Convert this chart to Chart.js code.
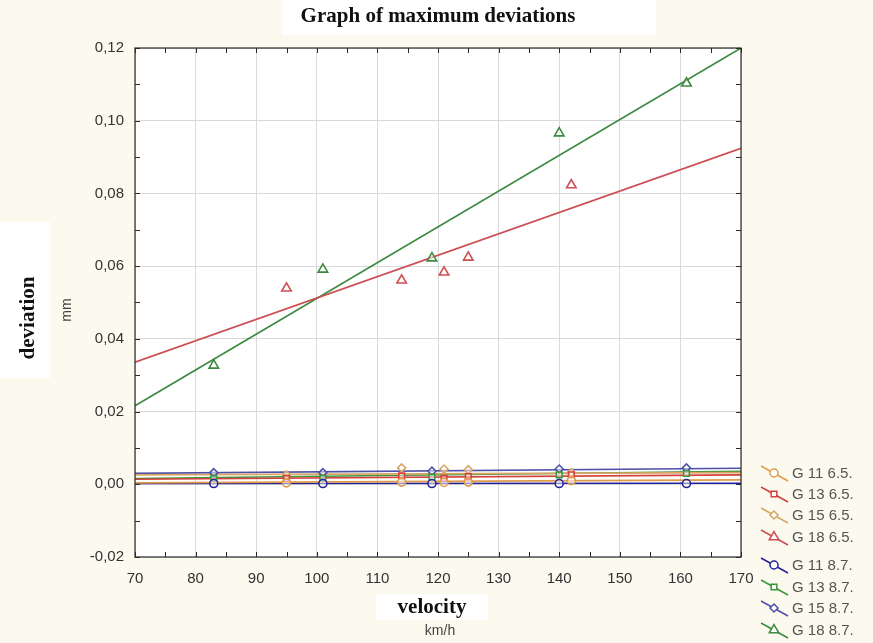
<!DOCTYPE html>
<html>
<head>
<meta charset="utf-8">
<script src="https://cdn.jsdelivr.net/npm/chart.js@4"></script>
<style>
  body { margin: 0; background: #fcf9ee; }
  #wrap { width: 873px; height: 643px; }
</style>
</head>
<body>
<div id="wrap"><canvas id="chart" width="873" height="643"></canvas></div>
<script>
// velocities (km/h) at which each test series was measured
const speeds65 = [95, 114, 121, 125, 142];
const speeds87 = [83, 101, 119, 140, 161];

// max deviation (mm)
const g11_65 = [0.0004, 0.0006, 0.0005, 0.0006, 0.0010];
const g13_65 = [0.0016, 0.0023, 0.0016, 0.0021, 0.0026];
const g15_65 = [0.0026, 0.0045, 0.0042, 0.0040, 0.0032];
const g18_65 = [0.0539, 0.0561, 0.0583, 0.0624, 0.0823];
const g11_87 = [0.0002, 0.0002, 0.0002, 0.0002, 0.0002];
const g13_87 = [0.0016, 0.0017, 0.0020, 0.0026, 0.0030];
const g15_87 = [0.0032, 0.0032, 0.0036, 0.0042, 0.0045];
const g18_87 = [0.0327, 0.0591, 0.0622, 0.0966, 0.1103];

// fitted lines, read at the ends of the axis
const fitX = [70, 170];
const fit11_65 = [0.0004, 0.0012];
const fit13_65 = [0.0014, 0.0026];
const fit15_65 = [0.0026, 0.0032];
const fit18_65 = [0.0336, 0.0924];
const fit11_87 = [0.0002, 0.0003];
const fit13_87 = [0.0016, 0.0036];
const fit15_87 = [0.0030, 0.0044];
const fit18_87 = [0.0216, 0.1200];

const seriesNames = ['G 11 6.5.', 'G 13 6.5.', 'G 15 6.5.', 'G 18 6.5.',
                     'G 11 8.7.', 'G 13 8.7.', 'G 15 8.7.', 'G 18 8.7.'];
const yTicks = [-0.02, 0, 0.02, 0.04, 0.06, 0.08, 0.10, 0.12];
const xTicks = [70, 80, 90, 100, 110, 120, 130, 140, 150, 160, 170];

const series = [
  { x: speeds65, y: g11_65, fit: fit11_65, color: '#e09a4a', style: 'circle' },
  { x: speeds65, y: g13_65, fit: fit13_65, color: '#d4403c', style: 'rect' },
  { x: speeds65, y: g15_65, fit: fit15_65, color: '#d6a664', style: 'rectRot' },
  { x: speeds65, y: g18_65, fit: fit18_65, color: '#cc4e52', style: 'triangle' },
  { x: speeds87, y: g11_87, fit: fit11_87, color: '#22229a', style: 'circle' },
  { x: speeds87, y: g13_87, fit: fit13_87, color: '#3c963c', style: 'rect' },
  { x: speeds87, y: g15_87, fit: fit15_87, color: '#5050aa', style: 'rectRot' },
  { x: speeds87, y: g18_87, fit: fit18_87, color: '#3d8a40', style: 'triangle' }
];

function markerSize(style) {
  return style === 'triangle' ? 5.5 : 4;
}

const datasets = [];
series.forEach(function (s, i) {
  datasets.push({
    label: seriesNames[i] + ' fit',
    data: fitX.map(function (x, j) { return { x: x, y: s.fit[j] }; }),
    showLine: true,
    borderColor: s.color,
    borderWidth: 1.6,
    pointRadius: 0,
    order: 2
  });
  datasets.push({
    label: seriesNames[i],
    data: s.x.map(function (x, j) { return { x: x, y: s.y[j] }; }),
    pointStyle: s.style,
    pointRadius: markerSize(s.style),
    borderColor: s.color,
    borderWidth: 1.6,
    backgroundColor: 'rgba(255,255,255,0.5)',
    order: 1
  });
});

const deco = {
  id: 'deco',
  beforeDraw: function (chart) {
    const ctx = chart.ctx;
    const a = chart.chartArea;
    ctx.save();
    ctx.fillStyle = '#fcf9ee';
    ctx.fillRect(0, 0, chart.width, chart.height);
    ctx.fillStyle = '#ffffff';
    ctx.fillRect(a.left, a.top, a.right - a.left, a.bottom - a.top);
    ctx.fillRect(282, 0, 374, 35);
    ctx.fillRect(0, 222, 50, 156);
    ctx.fillRect(376, 594, 112, 26);
    ctx.restore();
  },
  afterDraw: function (chart) {
    const ctx = chart.ctx;
    const a = chart.chartArea;
    const xs = chart.scales.x;
    const ys = chart.scales.y;
    ctx.save();
    // frame
    ctx.strokeStyle = '#2a2a2a';
    ctx.lineWidth = 1.2;
    ctx.strokeRect(a.left, a.top, a.right - a.left, a.bottom - a.top);
    // inner tick marks
    ctx.lineWidth = 1;
    ctx.beginPath();
    for (let v = -0.02; v <= 0.1201; v += 0.01) {
      const py = Math.round(ys.getPixelForValue(v)) + 0.5;
      ctx.moveTo(a.left, py); ctx.lineTo(a.left + 5, py);
      ctx.moveTo(a.right, py); ctx.lineTo(a.right - 5, py);
    }
    for (let v = 70; v <= 170; v += 5) {
      const px = Math.round(xs.getPixelForValue(v)) + 0.5;
      ctx.moveTo(px, a.top); ctx.lineTo(px, a.top + 5);
      ctx.moveTo(px, a.bottom); ctx.lineTo(px, a.bottom - 5);
    }
    ctx.stroke();

    // titles
    ctx.fillStyle = '#111';
    ctx.textAlign = 'center';
    ctx.textBaseline = 'middle';
    ctx.font = 'bold 21px "Liberation Serif"';
    ctx.fillText('Graph of maximum deviations', 438, 17);
    ctx.fillText('velocity', 432, 608);
    ctx.save();
    ctx.translate(29, 318);
    ctx.rotate(-Math.PI / 2);
    ctx.fillText('deviation', 0, 0);
    ctx.restore();
    ctx.fillStyle = '#444';
    ctx.font = '14px "Liberation Sans"';
    ctx.fillText('km/h', 440, 631);
    ctx.save();
    ctx.translate(67, 310);
    ctx.rotate(-Math.PI / 2);
    ctx.fillText('mm', 0, 0);
    ctx.restore();

    // legend
    const legendY = [473, 494, 515, 537, 565, 587, 608, 630];
    series.forEach(function (s, i) {
      const y = legendY[i];
      ctx.strokeStyle = s.color;
      ctx.lineWidth = 1.5;
      ctx.beginPath();
      ctx.moveTo(761, y - 7);
      ctx.lineTo(788, y + 8);
      ctx.stroke();
      ctx.fillStyle = '#ffffff';
      Chart.helpers.drawPoint(ctx, { pointStyle: s.style, radius: markerSize(s.style), borderWidth: 1.5 }, 774, y);
      ctx.fillStyle = '#555';
      ctx.font = '15px "Liberation Sans"';
      ctx.textAlign = 'left';
      ctx.fillText(seriesNames[i], 792, y + 1);
    });
    ctx.restore();
  }
};

new Chart(document.getElementById('chart'), {
  type: 'scatter',
  data: { datasets: datasets },
  options: {
    responsive: false,
    animation: false,
    layout: { padding: { top: 48, right: 132, bottom: 0, left: 0 } },
    plugins: { legend: { display: false }, tooltip: { enabled: false } },
    scales: {
      x: {
        type: 'linear',
        min: 70,
        max: 170,
        afterFit: function (s) { s.height = 86; },
        afterBuildTicks: function (s) { s.ticks = xTicks.map(function (v) { return { value: v }; }); },
        grid: { color: '#d9d9d9', drawTicks: false },
        border: { display: false },
        ticks: { padding: 13, color: '#333', font: { family: 'Liberation Sans', size: 15 } }
      },
      y: {
        type: 'linear',
        min: -0.02,
        max: 0.12,
        afterFit: function (s) { s.width = 135; },
        afterBuildTicks: function (s) { s.ticks = yTicks.map(function (v) { return { value: v }; }); },
        grid: { color: '#d9d9d9', drawTicks: false },
        border: { display: false },
        ticks: {
          padding: 11,
          color: '#333',
          font: { family: 'Liberation Sans', size: 15 },
          callback: function (v) { return v.toFixed(2).replace('.', ','); }
        }
      }
    }
  },
  plugins: [deco]
});
</script>
</body>
</html>
